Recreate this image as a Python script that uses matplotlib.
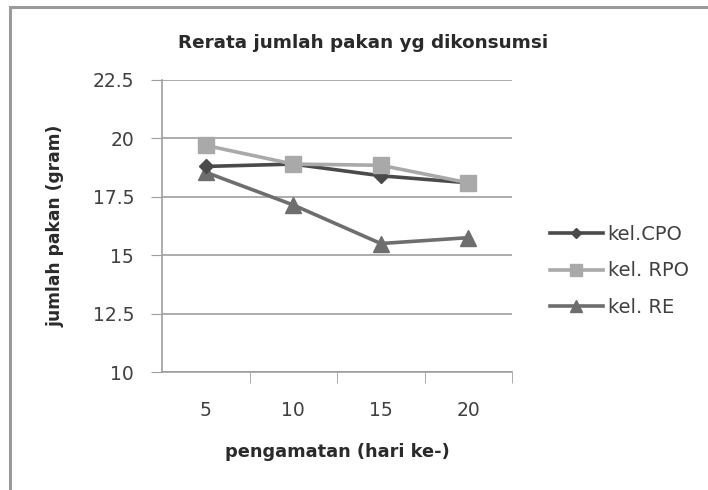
import matplotlib
matplotlib.use("Agg")
import matplotlib.pyplot as plt
from matplotlib.patches import Rectangle

plt.rcParams['font.family'] = ['DejaVu Sans']

days = ['5', '10', '15', '20']
cpo = [18.8, 18.9, 18.4, 18.1]
rpo = [19.7, 18.9, 18.85, 18.1]
re_vals = [18.55, 17.15, 15.5, 15.75]
series_names = ['kel.CPO', 'kel. RPO', 'kel. RE']
y_ticks = [10, 12.5, 15, 17.5, 20, 22.5]

W, H = 708, 490
fig = plt.figure(figsize=(W / 100, H / 100), dpi=100)
# outer chart frame (only left/top edges visible in the picture)
fig.patches.append(Rectangle((10 / W, -0.05), 1.2, 1 - 7 / H + 0.05,
                             transform=fig.transFigure, fill=False,
                             edgecolor='#9a9a9a', linewidth=2.2))

ax = fig.add_axes([162 / W, 1 - 372 / H, 350 / W, 292 / H])

x = range(len(days))
ax.plot(x, cpo, color='#4a4a4a', marker='D', markersize=7, linewidth=2.6, label=series_names[0], zorder=3)
ax.plot(x, rpo, color='#a9a9a9', marker='s', markersize=11, linewidth=2.6, label=series_names[1], zorder=4)
ax.plot(x, re_vals, color='#6e6e6e', marker='^', markersize=11, linewidth=2.6, label=series_names[2], zorder=2)

ax.set_xlim(-0.5, len(days) - 0.5)
ax.set_ylim(10, 22.5)
ax.set_yticks(y_ticks)
ax.set_yticklabels(['10', '12.5', '15', '17.5', '20', '22.5'])
ax.set_xticks(list(x))
ax.set_xticklabels(days)
ax.set_xticks([0.5, 1.5, 2.5, 3.5], minor=True)

ax.grid(axis='y', color='#9e9e9e', linewidth=1.2)
ax.set_axisbelow(True)
for side in ['top', 'right']:
    ax.spines[side].set_visible(False)
for side in ['left', 'bottom']:
    ax.spines[side].set_color('#9e9e9e')
    ax.spines[side].set_linewidth(1.2)

ax.tick_params(axis='y', length=8, color='#9e9e9e', labelsize=13.5, labelcolor='#404040', pad=12)
ax.tick_params(axis='x', which='major', length=0, labelsize=13.5, labelcolor='#404040', pad=21)
ax.tick_params(axis='x', which='minor', length=8, color='#9e9e9e')

fig.text(363 / W, 1 - 43 / H, 'Rerata jumlah pakan yg dikonsumsi', fontsize=13.2,
         fontweight='bold', color='#2a2a2a', ha='center', va='center')
fig.text(337 / W, 1 - 452 / H, 'pengamatan (hari ke-)', fontsize=12.8,
         fontweight='bold', color='#2a2a2a', ha='center', va='center')
fig.text(55 / W, 1 - 226 / H, 'jumlah pakan (gram)', fontsize=12.3, rotation=90,
         fontweight='bold', color='#2a2a2a', ha='center', va='center')

ax.legend(loc='center left', bbox_to_anchor=(1.109, 0.346), frameon=False, fontsize=14,
          labelspacing=0.9, handlelength=2.7, handletextpad=0.25, borderaxespad=0,
          borderpad=0, markerscale=0.75, labelcolor='#404040')

fig.savefig('out.png', dpi=100)
